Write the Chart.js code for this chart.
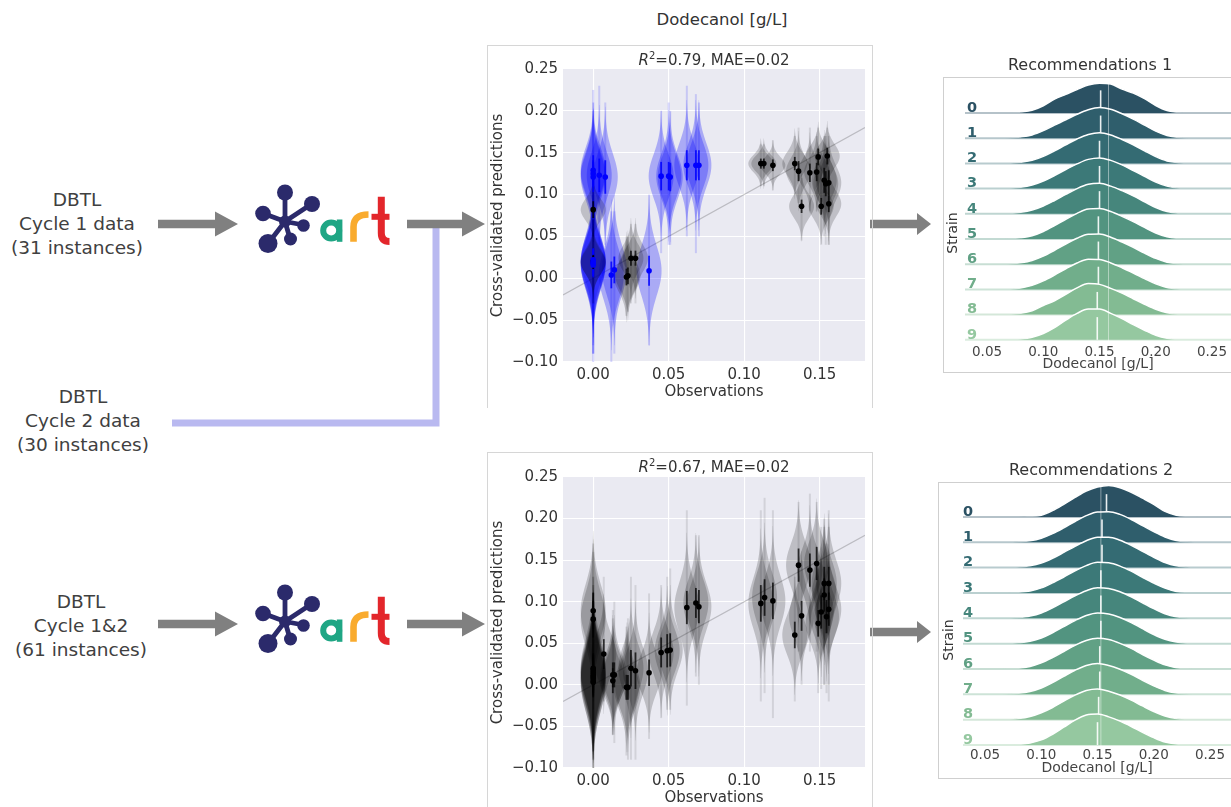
<!DOCTYPE html>
<html><head><meta charset="utf-8">
<script src="https://cdn.jsdelivr.net/npm/chart.js@4"></script>
<style>
body{margin:0;background:#fff;width:1231px;height:807px;overflow:hidden;position:relative;font-family:"DejaVu Sans",Verdana,sans-serif;}
.abs{position:absolute;}
.lbl{position:absolute;width:200px;text-align:center;color:#404040;font-size:18.5px;line-height:24px;white-space:nowrap;}
.ttl{position:absolute;text-align:center;color:#333;white-space:nowrap;}
canvas{position:absolute;}
</style></head><body>

<svg class="abs" style="left:0;top:0" width="1231" height="807">
  <polyline points="172,423 436,423 436,226" fill="none" stroke="#b9b9f0" stroke-width="7"/>
  <g fill="#808080">
    <polygon points="158,219.8 215,219.8 215,211.5 238,224 215,236.5 215,228.2 158,228.2"/>
    <polygon points="407,219.8 462,219.8 462,211.5 485,224 462,236.5 462,228.2 407,228.2"/>
    <polygon points="870,219.8 917,219.8 917,213 931,224 917,235 917,228.2 870,228.2"/>
    <polygon points="158,619.8 215,619.8 215,611.5 238,624 215,636.5 215,628.2 158,628.2"/>
    <polygon points="407,619.8 462,619.8 462,611.5 485,624 462,636.5 462,628.2 407,628.2"/>
    <polygon points="870,627.8 917,627.8 917,621 931,632 917,643 917,636.2 870,636.2"/>
  </g>
  <g id="artlogo">
    <g stroke="#2b2a6b" stroke-width="4.8" stroke-linecap="round">
      <line x1="285" y1="221.5" x2="285" y2="193"/>
      <line x1="285" y1="221.5" x2="311.5" y2="204"/>
      <line x1="285" y1="221.5" x2="263.5" y2="213.5"/>
      <line x1="285" y1="221.5" x2="303.5" y2="225"/>
      <line x1="285" y1="221.5" x2="290" y2="238.5"/>
      <line x1="285" y1="221.5" x2="268.5" y2="243"/>
    </g>
    <g fill="#2b2a6b">
      <circle cx="285" cy="192.5" r="8"/>
      <circle cx="312" cy="204" r="8"/>
      <circle cx="263" cy="213.5" r="7.8"/>
      <circle cx="303.5" cy="225.5" r="6.3"/>
      <circle cx="290.5" cy="239" r="6.5"/>
      <circle cx="268" cy="243.5" r="9.5"/>
      <circle cx="285" cy="221.5" r="6"/>
    </g>
    <circle cx="331.2" cy="230.5" r="8" fill="none" stroke="#1fa684" stroke-width="6"/>
    <rect x="336.8" y="219.5" width="5.6" height="22.3" fill="#1fa684"/>
    <path d="M353.5 241.8 L353.5 227 Q353.5 214.5 368.5 214.5" fill="none" stroke="#f9ab2e" stroke-width="6.6"/>
    <path d="M381.3 196.8 L381.3 233 Q381.3 241.5 389.5 241.5" fill="none" stroke="#e3262b" stroke-width="7"/>
    <line x1="371.5" y1="216.8" x2="389.5" y2="216.8" stroke="#e3262b" stroke-width="6"/>
  </g>
  <use href="#artlogo" transform="translate(0,400)"/>
</svg>

<div class="lbl" style="left:-23px;top:188px">DBTL<br>Cycle 1 data<br>(31 instances)</div>
<div class="lbl" style="left:-17px;top:385px">DBTL<br>Cycle 2 data<br>(30 instances)</div>
<div class="lbl" style="left:-19px;top:590px">DBTL<br>Cycle 1&amp;2<br>(61 instances)</div>

<div class="ttl" style="left:622px;top:9px;width:200px;font-size:16.5px;line-height:22px;">Dodecanol [g/L]</div>

<div class="abs" style="left:487px;top:45px;width:384px;height:362px;border:1px solid #d6d6d6;border-bottom:none;"></div>
<div class="abs" style="left:487px;top:452px;width:384px;height:360px;border:1px solid #d6d6d6;border-bottom:none;"></div>
<div class="abs" style="left:943px;top:77px;width:300px;height:294px;border:1px solid #cfcfcf;border-right:none;"></div>
<div class="abs" style="left:938px;top:482px;width:305px;height:295px;border:1px solid #cfcfcf;border-right:none;"></div>

<canvas id="v1" width="385" height="360" style="left:487px;top:45px"></canvas>
<canvas id="v2" width="385" height="355" style="left:487px;top:452px"></canvas>
<canvas id="r1" width="287" height="293" style="left:944px;top:78px"></canvas>
<canvas id="r2" width="292" height="294" style="left:939px;top:483px"></canvas>

<div class="ttl" style="left:614px;top:50px;width:200px;font-size:15px;line-height:20px;"><i>R</i><sup style="font-size:10px;line-height:0;">2</sup>=0.79, MAE=0.02</div>
<div class="ttl" style="left:614px;top:457px;width:200px;font-size:15px;line-height:20px;"><i>R</i><sup style="font-size:10px;line-height:0;">2</sup>=0.67, MAE=0.02</div>
<div class="ttl" style="left:990px;top:54px;width:200px;font-size:16px;line-height:22px;">Recommendations 1</div>
<div class="ttl" style="left:991px;top:459px;width:200px;font-size:16px;line-height:22px;">Recommendations 2</div>
<div class="ttl" style="left:922px;top:223px;width:60px;font-size:14px;line-height:20px;transform:rotate(-90deg);">Strain</div>
<div class="ttl" style="left:918px;top:630px;width:60px;font-size:14px;line-height:20px;transform:rotate(-90deg);">Strain</div>

<script>
// ---------- shared axis ticks ----------
const xTicksV = [0, 0.05, 0.10, 0.15];
const yTicksV = [-0.10, -0.05, 0, 0.05, 0.10, 0.15, 0.20, 0.25];
const diagonal = [-0.02, 0.18];

// ---------- top panel: cycle 1 strains (blue) ----------
const topBlueObs  = [0.000, 0.000, 0.004, 0.008, 0.000, 0.000, 0.000, 0.000, 0.000, 0.000, 0.012, 0.014, 0.037, 0.045, 0.050, 0.051, 0.062, 0.068, 0.070];
const topBluePred = [0.129, 0.121, 0.123, 0.121, 0.125, 0.020, 0.018, 0.022, 0.019, 0.016, 0.004, 0.010, 0.009, 0.122, 0.122, 0.121, 0.135, 0.135, 0.135];
const topBlueSd   = [0.027, 0.027, 0.028, 0.028, 0.026, 0.030, 0.028, 0.026, 0.032, 0.029, 0.030, 0.030, 0.030, 0.026, 0.026, 0.026, 0.026, 0.026, 0.026];
const topBlueErr  = [0.018, 0.018, 0.020, 0.020, 0.016, 0.015, 0.015, 0.014, 0.016, 0.015, 0.016, 0.016, 0.018, 0.017, 0.017, 0.017, 0.018, 0.018, 0.018];
const topBlueLo   = [0.05, 0.05, 0.04, 0.04, 0.05, -0.09, -0.10, -0.08, -0.09, -0.09, -0.10, -0.09, -0.08, 0.03, 0.04, 0.04, 0.05, 0.03, 0.05];
const topBlueHi   = [0.225, 0.21, 0.23, 0.21, 0.20, 0.12, 0.11, 0.10, 0.13, 0.11, 0.08, 0.08, 0.10, 0.20, 0.21, 0.20, 0.23, 0.22, 0.21];

// ---------- top panel: cycle 2 strains (grey) ----------
const topGrayObs  = [0.000, 0.000, 0.000, 0.022, 0.023, 0.025, 0.028, 0.111, 0.113, 0.119, 0.1335, 0.136, 0.138, 0.1435, 0.148, 0.149, 0.151, 0.153, 0.154, 0.155, 0.156, 0.156];
const topGrayPred = [0.082, 0.020, 0.019, 0.0015, 0.003, 0.024, 0.024, 0.137, 0.137, 0.135, 0.137, 0.128, 0.086, 0.126, 0.127, 0.145, 0.086, 0.117, 0.113, 0.146, 0.114, 0.089];
const topGraySd   = [0.013, 0.015, 0.014, 0.018, 0.018, 0.016, 0.016, 0.010, 0.010, 0.010, 0.014, 0.016, 0.014, 0.016, 0.016, 0.014, 0.015, 0.020, 0.020, 0.014, 0.020, 0.015];
const topGrayErr  = [0.010, 0.008, 0.008, 0.010, 0.010, 0.009, 0.009, 0.006, 0.006, 0.007, 0.008, 0.012, 0.008, 0.011, 0.011, 0.010, 0.010, 0.015, 0.015, 0.010, 0.015, 0.010];
const topGrayLo   = [0.05, -0.03, -0.03, -0.045, -0.04, -0.03, -0.03, 0.11, 0.11, 0.105, 0.10, 0.09, 0.045, 0.08, 0.08, 0.10, 0.04, 0.05, 0.04, 0.10, 0.04, 0.04];
const topGrayHi   = [0.11, 0.07, 0.07, 0.05, 0.05, 0.065, 0.065, 0.16, 0.16, 0.165, 0.17, 0.18, 0.12, 0.18, 0.17, 0.18, 0.12, 0.17, 0.17, 0.18, 0.17, 0.13];

// ---------- bottom panel: all 61 strains (grey) ----------
const botObs  = [0.000, 0.000, 0.000, 0.000, 0.000, 0.000, 0.000, 0.000, 0.000, 0.000, 0.007, 0.013, 0.014, 0.013, 0.022, 0.023, 0.025, 0.028, 0.037, 0.045, 0.049, 0.051, 0.062, 0.068, 0.070, 0.111, 0.1135, 0.119, 0.1335, 0.136, 0.138, 0.1435, 0.148, 0.149, 0.151, 0.153, 0.153, 0.1545, 0.156, 0.156];
const botPred = [0.089, 0.079, 0.012, 0.008, 0.015, 0.005, 0.010, 0.018, 0.003, 0.020, 0.037, 0.012, 0.012, 0.005, -0.003, -0.003, 0.020, 0.017, 0.0146, 0.039, 0.041, 0.042, 0.093, 0.0985, 0.094, 0.098, 0.105, 0.101, 0.060, 0.144, 0.083, 0.138, 0.146, 0.074, 0.0876, 0.122, 0.108, 0.082, 0.122, 0.091];
const botSd   = [0.032, 0.032, 0.034, 0.034, 0.033, 0.036, 0.034, 0.033, 0.035, 0.036, 0.024, 0.024, 0.024, 0.022, 0.026, 0.026, 0.028, 0.028, 0.024, 0.026, 0.026, 0.026, 0.030, 0.028, 0.028, 0.030, 0.030, 0.030, 0.024, 0.026, 0.026, 0.026, 0.026, 0.024, 0.026, 0.028, 0.028, 0.026, 0.028, 0.026];
const botErr  = [0.022, 0.022, 0.018, 0.018, 0.018, 0.018, 0.018, 0.018, 0.018, 0.018, 0.018, 0.015, 0.015, 0.015, 0.015, 0.015, 0.022, 0.022, 0.016, 0.018, 0.020, 0.020, 0.020, 0.018, 0.020, 0.022, 0.022, 0.022, 0.016, 0.020, 0.018, 0.020, 0.020, 0.016, 0.020, 0.020, 0.020, 0.020, 0.020, 0.020];
const botLo   = [-0.02, -0.03, -0.10, -0.09, -0.08, -0.10, -0.09, -0.08, -0.10, -0.07, -0.02, -0.06, -0.07, -0.06, -0.085, -0.09, -0.09, -0.09, -0.065, -0.04, -0.03, -0.03, -0.025, 0.01, 0.0, -0.02, -0.01, -0.04, -0.02, 0.04, 0.0, 0.04, 0.04, -0.01, -0.005, 0.0, 0.0, -0.01, 0.0, -0.02];
const botHi   = [0.17, 0.16, 0.12, 0.12, 0.11, 0.10, 0.13, 0.11, 0.10, 0.13, 0.13, 0.09, 0.10, 0.08, 0.07, 0.08, 0.13, 0.12, 0.11, 0.12, 0.13, 0.14, 0.21, 0.18, 0.18, 0.21, 0.225, 0.21, 0.13, 0.22, 0.15, 0.23, 0.22, 0.14, 0.19, 0.20, 0.19, 0.17, 0.21, 0.19];

// ---------- recommendation ridgelines ----------
const strainLabels = ['0','1','2','3','4','5','6','7','8','9'];
const ridgeTicksV = [0.05, 0.10, 0.15, 0.20, 0.25];
const ridgeX = [0.06,0.07,0.08,0.09,0.10,0.11,0.12,0.13,0.14,0.15,0.16,0.17,0.18,0.19,0.20,0.21,0.22,0.23,0.24];
const rec1Density = [
  [0,0,0.04,0.11,0.29,0.55,0.74,0.93,1.11,1.18,1.15,0.95,0.79,0.57,0.30,0.10,0.02,0,0],
  [0,0.01,0.05,0.13,0.30,0.52,0.73,0.95,1.13,1.22,1.15,0.97,0.76,0.52,0.28,0.11,0.03,0,0],
  [0,0.01,0.05,0.12,0.28,0.50,0.74,0.97,1.15,1.22,1.13,0.95,0.74,0.50,0.27,0.10,0.03,0,0],
  [0,0.01,0.05,0.14,0.30,0.52,0.76,0.98,1.16,1.22,1.12,0.94,0.72,0.49,0.26,0.10,0.02,0,0],
  [0,0.01,0.06,0.15,0.31,0.53,0.77,1.00,1.17,1.21,1.10,0.92,0.71,0.48,0.25,0.09,0.02,0,0],
  [0,0.01,0.05,0.13,0.30,0.53,0.78,1.02,1.19,1.21,1.09,0.90,0.69,0.46,0.24,0.09,0.02,0,0],
  [0,0.01,0.06,0.15,0.32,0.55,0.80,1.03,1.19,1.20,1.07,0.88,0.67,0.44,0.23,0.08,0.02,0,0],
  [0,0.01,0.06,0.16,0.34,0.57,0.82,1.05,1.20,1.19,1.05,0.86,0.65,0.43,0.22,0.08,0.02,0,0],
  [0,0.01,0.05,0.15,0.36,0.55,0.80,1.06,1.23,1.20,1.04,0.85,0.63,0.41,0.21,0.07,0.01,0,0],
  [0,0,0.03,0.10,0.25,0.48,0.78,1.05,1.22,1.22,1.05,0.84,0.60,0.38,0.18,0.06,0.01,0,0]
];
const rec2Density = [
  [0,0,0,0.02,0.07,0.25,0.50,0.77,1.02,1.18,1.24,1.15,0.97,0.74,0.50,0.22,0.07,0.02,0],
  [0,0,0.02,0.06,0.16,0.34,0.57,0.82,1.05,1.20,1.21,1.10,0.90,0.66,0.42,0.21,0.07,0.02,0],
  [0,0,0.02,0.07,0.18,0.37,0.60,0.84,1.06,1.20,1.20,1.08,0.88,0.64,0.41,0.20,0.07,0.02,0],
  [0,0,0.03,0.08,0.20,0.40,0.63,0.87,1.08,1.21,1.19,1.06,0.86,0.62,0.39,0.19,0.06,0.02,0],
  [0,0,0.03,0.09,0.21,0.41,0.65,0.89,1.09,1.21,1.18,1.05,0.85,0.61,0.38,0.18,0.06,0.01,0],
  [0,0,0.03,0.09,0.22,0.43,0.67,0.91,1.11,1.21,1.17,1.03,0.83,0.59,0.36,0.17,0.06,0.01,0],
  [0,0.01,0.03,0.10,0.24,0.45,0.69,0.93,1.12,1.21,1.16,1.01,0.81,0.57,0.35,0.16,0.05,0.01,0],
  [0,0.01,0.04,0.11,0.25,0.46,0.71,0.95,1.14,1.22,1.14,0.99,0.79,0.55,0.33,0.15,0.05,0.01,0],
  [0,0.01,0.04,0.12,0.27,0.48,0.73,0.97,1.15,1.21,1.12,0.97,0.77,0.54,0.32,0.14,0.04,0.01,0],
  [0,0,0.02,0.08,0.20,0.42,0.70,0.98,1.18,1.22,1.11,0.94,0.73,0.50,0.29,0.12,0.04,0.01,0]
];
const rec1Means = [0.151,0.151,0.150,0.150,0.150,0.149,0.149,0.149,0.148,0.148];
const rec2Means = [0.158,0.154,0.154,0.153,0.153,0.153,0.152,0.152,0.151,0.150];
const rec1Ref = 0.158;
const rec2Ref = 0.153;
const ridgeColors = ['#2b5163','#2f5e6c','#346b73','#3c7978','#46867c','#529480','#61a185','#71ae8b','#83bb93','#95c8a0'];

// ================= rendering =================
const FONT = '"DejaVu Sans", Verdana, sans-serif';
Chart.defaults.font.family = FONT;
function fmt2(v){ return (v < -1e-9 ? '\u2212' : '') + Math.abs(v).toFixed(2); }
function hexA(h, a){ const n=parseInt(h.slice(1),16); return `rgba(${n>>16},${(n>>8)&255},${n&255},${a})`; }

function violinChart(id, groups, L) {
  const plugin = {
    id: 'violins',
    beforeDraw(chart) {
      const {ctx, chartArea: a} = chart;
      ctx.save(); ctx.fillStyle = '#eaeaf2';
      ctx.fillRect(a.left, a.top, a.right - a.left, a.bottom - a.top); ctx.restore();
    },
    beforeDatasetsDraw(chart) {
      const {ctx, chartArea: a, scales: {x, y}} = chart;
      ctx.save();
      ctx.beginPath(); ctx.rect(a.left, a.top, a.right - a.left, a.bottom - a.top); ctx.clip();
      ctx.strokeStyle = 'rgba(0,0,0,0.2)'; ctx.lineWidth = 1.2;
      ctx.beginPath();
      ctx.moveTo(x.getPixelForValue(diagonal[0]), y.getPixelForValue(diagonal[0]));
      ctx.lineTo(x.getPixelForValue(diagonal[1]), y.getPixelForValue(diagonal[1]));
      ctx.stroke();
      groups.forEach(g => {
        for (let i = 0; i < g.obs.length; i++) {
          const cx = x.getPixelForValue(g.obs[i]);
          const yl = y.getPixelForValue(g.lo[i]), yh = y.getPixelForValue(g.hi[i]);
          ctx.fillStyle = g.tail; ctx.fillRect(cx - 1, yh, 2, yl - yh);
          ctx.fillStyle = g.fill;
          const m = g.pred[i], s = g.sd[i], n = 48, pts = [];
          for (let k = 0; k <= n; k++) {
            const v = m - 3 * s + 6 * s * k / n, z = (v - m) / s;
            pts.push([L.W * Math.exp(-0.5 * z * z), y.getPixelForValue(v)]);
          }
          ctx.beginPath();
          pts.forEach((p, k) => k ? ctx.lineTo(cx + p[0], p[1]) : ctx.moveTo(cx + p[0], p[1]));
          for (let k = n; k >= 0; k--) ctx.lineTo(cx - pts[k][0], pts[k][1]);
          ctx.closePath(); ctx.fill();
        }
      });
      groups.forEach(g => {
        ctx.strokeStyle = g.bar; ctx.lineWidth = 1.8;
        for (let i = 0; i < g.obs.length; i++) {
          const cx = x.getPixelForValue(g.obs[i]);
          ctx.beginPath();
          ctx.moveTo(cx, y.getPixelForValue(g.pred[i] - g.err[i]));
          ctx.lineTo(cx, y.getPixelForValue(g.pred[i] + g.err[i]));
          ctx.stroke();
        }
      });
      ctx.restore();
    }
  };
  const datasets = groups.map(g => ({
    data: g.obs.map((o, i) => ({x: o, y: g.pred[i]})),
    pointRadius: 2.8, pointHoverRadius: 2.8, pointBackgroundColor: g.dot, pointBorderWidth: 0
  }));
  new Chart(document.getElementById(id), {
    type: 'scatter', data: {datasets}, plugins: [plugin],
    options: {
      responsive: false, animation: false, events: [],
      layout: {padding: {top: L.padTop, right: 7, left: 0, bottom: 0}},
      plugins: {legend: {display: false}, tooltip: {enabled: false}},
      scales: {
        x: {
          type: 'linear', min: -0.02, max: 0.18,
          afterBuildTicks: s => { s.ticks = xTicksV.map(v => ({value: v})); },
          afterFit: s => { s.height = L.xH; },
          grid: {color: '#ffffff', lineWidth: 1.1, drawTicks: false},
          border: {display: false},
          ticks: {padding: 4, color: '#333', font: {size: 15}, callback: v => fmt2(v), maxRotation: 0},
          title: {display: true, text: 'Observations', color: '#333', font: {size: 15}, padding: {top: 0, bottom: L.xTitlePad}}
        },
        y: {
          min: -0.10, max: 0.25,
          afterBuildTicks: s => { s.ticks = yTicksV.map(v => ({value: v})); },
          afterFit: s => { s.width = 76; },
          grid: {color: '#ffffff', lineWidth: 1.1, drawTicks: false},
          border: {display: false},
          ticks: {padding: 5, color: '#333', font: {size: 15}, callback: v => fmt2(v)},
          title: {display: true, text: 'Cross-validated predictions', color: '#333', font: {size: 15}, padding: {top: 2, bottom: 0}}
        }
      }
    }
  });
}

violinChart('v1', [
  {obs: topBlueObs, pred: topBluePred, sd: topBlueSd, err: topBlueErr, lo: topBlueLo, hi: topBlueHi,
   fill: 'rgba(0,0,255,0.27)', tail: 'rgba(0,0,255,0.15)', bar: 'rgba(0,0,255,0.85)', dot: '#0000ff'},
  {obs: topGrayObs, pred: topGrayPred, sd: topGraySd, err: topGrayErr, lo: topGrayLo, hi: topGrayHi,
   fill: 'rgba(0,0,0,0.18)', tail: 'rgba(0,0,0,0.10)', bar: 'rgba(0,0,0,0.75)', dot: '#000000'}
], {W: 12.5, padTop: 24, xH: 43, xTitlePad: 4});

violinChart('v2', [
  {obs: botObs, pred: botPred, sd: botSd, err: botErr, lo: botLo, hi: botHi,
   fill: 'rgba(0,0,0,0.19)', tail: 'rgba(0,0,0,0.10)', bar: 'rgba(0,0,0,0.75)', dot: '#000000'}
], {W: 12.5, padTop: 25, xH: 39, xTitlePad: 0});

function ridgeChart(id, dens, means, ref, R) {
  const datasets = [];
  for (let i = 0; i < 10; i++) {
    const base = 9 - i;
    datasets.push({
      data: ridgeX.map((x, j) => ({x, y: base + dens[i][j]})),
      fill: {value: base}, backgroundColor: ridgeColors[i], borderColor: '#ffffff', borderWidth: 1.5,
      pointRadius: 0, cubicInterpolationMode: 'monotone', order: 3 * (9 - i) + 2
    });
    datasets.push({
      data: [{x: R.xmin, y: base}, {x: R.xmax, y: base}],
      borderColor: hexA(ridgeColors[i], 0.35), borderWidth: 2, pointRadius: 0, fill: false, order: 3 * (9 - i) + 1
    });
    datasets.push({
      data: [{x: means[i], y: base}, {x: means[i], y: base + 0.9}],
      borderColor: 'rgba(255,255,255,0.9)', borderWidth: 1.6, pointRadius: 0, fill: false, order: 3 * (9 - i)
    });
  }
  datasets.push({
    data: [{x: ref, y: -0.05}, {x: ref, y: 10.25}],
    borderColor: 'rgba(255,255,255,0.45)', borderWidth: 1, pointRadius: 0, fill: false, order: -1
  });
  const labels = {
    id: 'strainLabels',
    afterDatasetsDraw(chart) {
      const {ctx, chartArea: a, scales: {y}} = chart;
      ctx.save(); ctx.font = `bold 14.5px ${FONT}`; ctx.textBaseline = 'middle'; ctx.textAlign = 'left';
      strainLabels.forEach((t, i) => { ctx.fillStyle = ridgeColors[i]; ctx.fillText(t, a.left + R.labDx, y.getPixelForValue(9 - i) - 5); });
      ctx.restore();
    }
  };
  new Chart(document.getElementById(id), {
    type: 'line', data: {datasets}, plugins: [labels],
    options: {
      responsive: false, animation: false, events: [],
      layout: {padding: {left: R.padL, right: 0, top: 0, bottom: 0}},
      plugins: {legend: {display: false}, tooltip: {enabled: false}},
      scales: {
        x: {
          type: 'linear', min: R.xmin, max: R.xmax,
          afterBuildTicks: s => { s.ticks = ridgeTicksV.map(v => ({value: v})); },
          afterFit: s => { s.height = R.xH; },
          grid: {display: false, drawTicks: false}, border: {display: false},
          ticks: {padding: R.tickPad, color: '#444', font: {size: 13.5}, callback: v => v.toFixed(2), maxRotation: 0},
          title: {display: true, text: 'Dodecanol [g/L]', color: '#444', font: {size: 14, lineHeight: 1}, padding: {top: 0, bottom: R.titlePad}}
        },
        y: {display: false, min: R.ymin, max: R.ymax}
      }
    }
  });
}

ridgeChart('r1', rec1Density, rec1Means, rec1Ref,
  {xmin: 0.0304, xmax: 0.2669, ymin: -0.087, ymax: 10.39, padL: 21, xH: 29, tickPad: 2, titlePad: 0, labDx: 2});
ridgeChart('r2', rec2Density, rec2Means, rec2Ref,
  {xmin: 0.0304, xmax: 0.2687, ymin: -0.08, ymax: 10.34, padL: 24, xH: 30, tickPad: 0, titlePad: 2, labDx: 0});
</script>
</body></html>
